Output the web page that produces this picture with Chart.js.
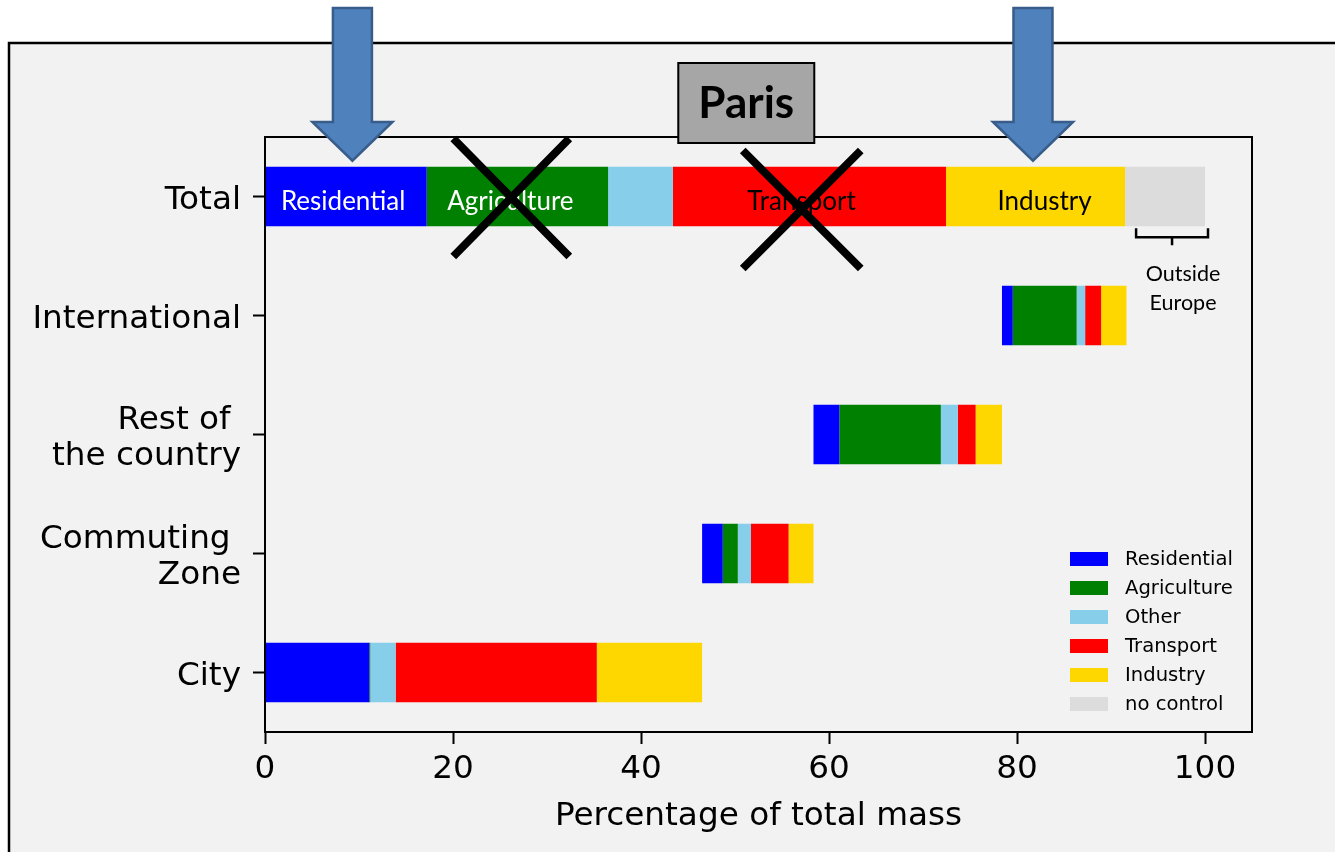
<!DOCTYPE html>
<html><head><meta charset="utf-8">
<script src="https://cdn.jsdelivr.net/npm/chart.js@4.4.0/dist/chart.umd.min.js"></script>
<style>html,body{margin:0;padding:0;background:#fff;overflow:hidden}canvas{display:block}</style>
</head><body>
<canvas id="c" width="1335" height="852"></canvas>
<script>
// ---- data ----
const categories = ['Total', 'International', ['Rest of ', 'the country'], ['Commuting ', 'Zone'], 'City'];
const sectors = ['Residential', 'Agriculture', 'Other', 'Transport', 'Industry', 'no control'];
const residential = [17.2, 1.15, 2.75, 2.2, 11.1];
const agriculture = [19.3, 6.8, 10.8, 1.6, 0.1];
const other = [6.9, 0.9, 1.8, 1.4, 2.7];
const transport = [29.05, 1.7, 1.9, 4.0, 21.4];
const industry = [19.05, 2.7, 2.8, 2.65, 11.2];
const noControl = [8.5, 0, 0, 0, 0];
const xTicks = [0, 20, 40, 60, 80, 100];
const totalLabels = ['Residential', 'Agriculture', '', 'Transport', 'Industry', ''];
const bracketLabel = ['Outside', 'Europe'];
const titleBox = 'Paris';

// ---- styles ----
const sectorColors = ['#0000ff', '#008000', '#87ceeb', '#ff0000', '#ffd700', '#dcdcdc'];
const totalLabelColors = ['#ffffff', '#ffffff', '#000000', '#000000', '#000000', '#000000'];
const totalLabelNudge = [-3, -7, 0, -8, 9, 0];

const series = [residential, agriculture, other, transport, industry, noControl];
const rowTotals = categories.map((c, i) => series.reduce((s, a) => s + a[i], 0));
const rowStart = categories.map((c, i) => i === 0 ? 0 : rowTotals.slice(i + 1).reduce((s, v) => s + v, 0));

const datasets = series.map((arr, k) => ({
  label: sectors[k],
  data: arr.map((v, i) => {
    const s = rowStart[i] + series.slice(0, k).reduce((t, a) => t + a[i], 0);
    return [s, s + v];
  }),
  backgroundColor: sectorColors[k],
  borderWidth: 0,
  grouped: false,
  barPercentage: 0.5,
  categoryPercentage: 1
}));

const W = 1335, H = 852;

function drawArrow(ctx, cx, top, headTop, tip) {
  ctx.save();
  ctx.fillStyle = '#4f81bd';
  ctx.strokeStyle = '#385d8a';
  ctx.lineWidth = 2.5;
  ctx.lineJoin = 'miter';
  ctx.beginPath();
  ctx.moveTo(cx - 19.5, top);
  ctx.lineTo(cx + 19.5, top);
  ctx.lineTo(cx + 19.5, headTop);
  ctx.lineTo(cx + 40, headTop);
  ctx.lineTo(cx, tip);
  ctx.lineTo(cx - 40, headTop);
  ctx.lineTo(cx - 19.5, headTop);
  ctx.closePath();
  ctx.fill();
  ctx.stroke();
  ctx.restore();
}

function drawX(ctx, cx, cy, hw, hh) {
  ctx.save();
  ctx.strokeStyle = '#000';
  ctx.lineWidth = 8;
  ctx.lineCap = 'butt';
  ctx.beginPath();
  ctx.moveTo(cx - hw, cy - hh); ctx.lineTo(cx + hw, cy + hh);
  ctx.moveTo(cx + hw, cy - hh); ctx.lineTo(cx - hw, cy + hh);
  ctx.stroke();
  ctx.restore();
}

const decor = {
  id: 'decor',
  beforeDraw(chart) {
    const ctx = chart.ctx;
    ctx.save();
    ctx.fillStyle = '#ffffff';
    ctx.fillRect(0, 0, W, H);
    ctx.fillStyle = '#f2f2f2';
    ctx.fillRect(9, 43, W, H);
    ctx.strokeStyle = '#000';
    ctx.lineWidth = 2.5;
    ctx.beginPath();
    ctx.moveTo(9, H + 5); ctx.lineTo(9, 43); ctx.lineTo(W + 5, 43);
    ctx.stroke();
    ctx.restore();
  },
  afterDraw(chart) {
    const ctx = chart.ctx;
    const a = chart.chartArea;
    const xs = chart.scales.x;
    ctx.save();
    // frame
    ctx.strokeStyle = '#000';
    ctx.lineWidth = 2;
    ctx.strokeRect(a.left, a.top, a.right - a.left, a.bottom - a.top);

    // labels inside Total bar
    ctx.font = '26px Lato';
    ctx.textAlign = 'center';
    ctx.textBaseline = 'middle';
    series.forEach((arr, k) => {
      const el = chart.getDatasetMeta(k).data[0];
      if (!totalLabels[k]) return;
      ctx.fillStyle = totalLabelColors[k];
      ctx.fillText(totalLabels[k], (el.x + el.base) / 2 + totalLabelNudge[k], el.y + 5);
    });

    // bracket under no control
    const nc = chart.getDatasetMeta(5).data[0];
    const bl = nc.base + 11, br = nc.x + 3;
    const by0 = nc.y + nc.height / 2 + 2, by1 = by0 + 9;
    ctx.lineWidth = 2.5;
    ctx.beginPath();
    ctx.moveTo(bl, by0); ctx.lineTo(bl, by1); ctx.lineTo(br, by1); ctx.lineTo(br, by0);
    const bm = (bl + br) / 2;
    ctx.moveTo(bm, by1); ctx.lineTo(bm, by1 + 8);
    ctx.stroke();
    ctx.fillStyle = '#000';
    ctx.font = '21.5px Lato';
    ctx.fillText(bracketLabel[0], bm + 11, by0 + 46);
    ctx.fillText(bracketLabel[1], bm + 11, by0 + 75);

    // legend
    ctx.font = '19.6px "DejaVu Sans"';
    ctx.textAlign = 'left';
    sectors.forEach((s, k) => {
      const cy = a.bottom - 173 + k * 29;
      ctx.fillStyle = sectorColors[k];
      ctx.fillRect(a.right - 182, cy - 7, 38, 14);
      ctx.fillStyle = '#000';
      ctx.fillText(s, a.right - 127, cy + 1);
    });

    // crosses
    const tot = chart.getDatasetMeta(0).data[0];
    drawX(ctx, xs.getPixelForValue(26.2), tot.y + 1, 58, 59);
    drawX(ctx, xs.getPixelForValue(57.1), tot.y + 13, 59, 59);

    // arrows
    const barTop = tot.y - tot.height / 2;
    drawArrow(ctx, xs.getPixelForValue(9.3), 8, 122, barTop - 6);
    drawArrow(ctx, xs.getPixelForValue(81.7), 8, 122, barTop - 6);

    // Paris box
    const px = xs.getPixelForValue(51.2);
    ctx.fillStyle = '#a6a6a6';
    ctx.fillRect(px - 68, 63, 136, 80);
    ctx.strokeStyle = '#000';
    ctx.lineWidth = 2;
    ctx.strokeRect(px - 68, 63, 136, 80);
    ctx.fillStyle = '#000';
    ctx.font = 'bold 44px Lato';
    ctx.textAlign = 'center';
    ctx.textBaseline = 'middle';
    ctx.fillText(titleBox, px, 104);
    ctx.restore();
  }
};

new Chart(document.getElementById('c'), {
  type: 'bar',
  data: { labels: categories, datasets },
  options: {
    indexAxis: 'y',
    responsive: false,
    animation: false,
    layout: { padding: { top: 137, right: 83, left: 0, bottom: 0 } },
    plugins: { legend: { display: false }, tooltip: { enabled: false } },
    scales: {
      x: {
        type: 'linear', min: 0, max: 105,
        afterBuildTicks: s => { s.ticks = xTicks.map(v => ({ value: v })); },
        afterFit: s => { s.height = 120; },
        grid: { drawOnChartArea: false, drawTicks: true, tickLength: 12, tickWidth: 2, color: '#000' },
        border: { display: true, color: '#000', width: 2 },
        ticks: { color: '#000', font: { family: 'DejaVu Sans', size: 32.7 }, padding: 6, maxRotation: 0, autoSkip: false },
        title: { display: true, text: 'Percentage of total mass', color: '#000', font: { family: 'DejaVu Sans', size: 32.7 }, padding: { top: 4, bottom: 16 } }
      },
      y: {
        afterFit: s => { s.width = 265; },
        grid: { drawOnChartArea: false, drawTicks: true, tickLength: 12, tickWidth: 2, color: '#000', offset: false },
        border: { display: true, color: '#000', width: 2 },
        ticks: { color: '#000', font: { family: 'DejaVu Sans', size: 32.7, lineHeight: 1.13 }, padding: 12, labelOffset: 4, autoSkip: false }
      }
    }
  },
  plugins: [decor]
});
</script>
</body></html>
